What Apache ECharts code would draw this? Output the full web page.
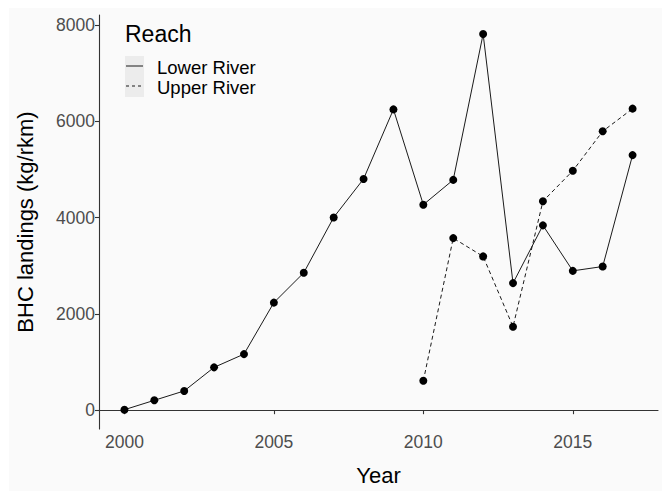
<!DOCTYPE html>
<html>
<head>
<meta charset="utf-8">
<script src="https://cdn.jsdelivr.net/npm/echarts@6/dist/echarts.min.js"></script>
<style>
  html, body { margin: 0; padding: 0; background: #ffffff; }
  #chart { width: 662px; height: 491px; }
</style>
</head>
<body>
<div id="chart"></div>
<script>
// Annual BHC landings per river kilometre, by reach
const years = [2000, 2001, 2002, 2003, 2004, 2005, 2006, 2007, 2008, 2009,
               2010, 2011, 2012, 2013, 2014, 2015, 2016, 2017];
const lowerRiver = [10, 205, 400, 890, 1165, 2235, 2855, 4005, 4805, 6250,
                    4270, 4785, 7815, 2640, 3840, 2895, 2985, 5300];
const upperYears = [2010, 2011, 2012, 2013, 2014, 2015, 2016, 2017];
const upperRiver = [610, 3575, 3195, 1735, 4340, 4975, 5795, 6265];

const xTicks = [2000, 2005, 2010, 2015];
const yTicks = [0, 2000, 4000, 6000, 8000];

const seriesNames = ['Lower River', 'Upper River'];
const legendTitle = 'Reach';

const FONT = '"Liberation Sans", Arial, Helvetica, sans-serif';

const lowerData = years.map((y, i) => [y, lowerRiver[i]]);
const upperData = upperYears.map((y, i) => [y, upperRiver[i]]);

const chart = echarts.init(document.getElementById('chart'), null, { renderer: 'svg' });

chart.setOption({
  backgroundColor: '#ffffff',
  animation: false,
  grid: { left: 99, top: 15, right: 4, bottom: 58, containLabel: false },
  xAxis: {
    type: 'value',
    min: 1999.15,
    max: 2017.85,
    name: 'Year',
    nameLocation: 'middle',
    nameGap: 35,
    nameTextStyle: { fontFamily: FONT, fontSize: 22, color: '#000000' },
    axisLine: { show: true, lineStyle: { color: '#333333', width: 1.1 } },
    axisTick: { show: true, length: 4, customValues: xTicks, lineStyle: { color: '#333333', width: 1.1 } },
    axisLabel: {
      customValues: xTicks,
      margin: 4,
      fontFamily: FONT, fontSize: 17.5, color: '#4d4d4d',
      formatter: v => String(v)
    },
    splitLine: { show: false }
  },
  yAxis: {
    type: 'value',
    min: -391,
    max: 8211,
    name: 'BHC landings (kg/rkm)',
    nameLocation: 'middle',
    nameGap: 63,
    nameRotate: 90,
    nameTextStyle: { fontFamily: FONT, fontSize: 22, color: '#000000' },
    axisLine: { show: true, lineStyle: { color: '#333333', width: 1.1 } },
    axisTick: { show: true, length: 4, customValues: yTicks, lineStyle: { color: '#333333', width: 1.1 } },
    axisLabel: {
      customValues: yTicks,
      margin: 4,
      fontFamily: FONT, fontSize: 17.5, color: '#4d4d4d',
      formatter: v => String(v)
    },
    splitLine: { show: false }
  },
  graphic: [
    // panel background with a thin white margin on the top and left
    { type: 'rect', z: -10, silent: true,
      shape: { x: 9, y: 8, width: 653, height: 483 },
      style: { fill: '#fafafa' } },
    // legend
    { type: 'text', left: 125, top: 22, z: 10,
      style: { text: legendTitle, font: '23px ' + FONT, fill: '#000000' } },
    { type: 'rect', z: 10, shape: { x: 125, y: 56, width: 19, height: 41 },
      style: { fill: '#ececec' } },
    { type: 'line', z: 11, shape: { x1: 126, y1: 66, x2: 143, y2: 66 },
      style: { stroke: '#1a1a1a', lineWidth: 1 } },
    { type: 'line', z: 11, shape: { x1: 126, y1: 86, x2: 143, y2: 86 },
      style: { stroke: '#1a1a1a', lineWidth: 1, lineDash: [3, 3] } },
    { type: 'text', left: 157, top: 58, z: 10,
      style: { text: seriesNames[0], font: '18.5px ' + FONT, fill: '#000000' } },
    { type: 'text', left: 157, top: 78, z: 10,
      style: { text: seriesNames[1], font: '18.5px ' + FONT, fill: '#000000' } }
  ],
  series: [
    {
      name: seriesNames[0],
      type: 'line',
      data: lowerData,
      symbol: 'circle',
      symbolSize: 8,
      itemStyle: { color: '#000000' },
      lineStyle: { color: '#1a1a1a', width: 1 },
      z: 3
    },
    {
      name: seriesNames[1],
      type: 'line',
      data: upperData,
      symbol: 'circle',
      symbolSize: 8,
      itemStyle: { color: '#000000' },
      lineStyle: { color: '#1a1a1a', width: 1, type: [4, 3] },
      z: 3
    }
  ]
});
</script>
</body>
</html>
